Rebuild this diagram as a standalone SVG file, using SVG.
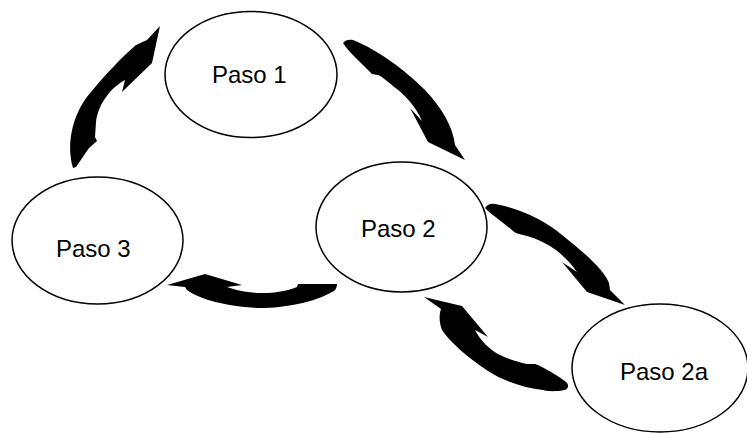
<svg xmlns="http://www.w3.org/2000/svg" width="747" height="433" viewBox="0 0 747 433">
<style>
.node{fill:#fff;stroke:#000;stroke-width:1.5}
.lbl{font-family:"Liberation Sans",Arial,sans-serif;font-size:24px;fill:#000}
.arr{fill:#000;stroke:none}
</style>
<rect width="747" height="433" fill="#fff"/>
<g id="connectors">
<path class="arr" d="M73,168 C65,140 75,110 91,92 C104,76 121,58 136,45 L147,40 L160,26 L152,63 L122,92 L125,80 C110,88 98,105 96,122 L95,137 L97,141 L89,148 L76,167 Z"/>
<path class="arr" d="M343,43 C345,40 349,39 353,40 C378,50 405,70 425,90 C442,108 453,127 455,145 L465,160 L428,142 L410,108 L422,121 C416,106 403,93 393,86 C386,80 381,76 378,75 L372,74 L369,71 C360,62 349,52 343,43 Z"/>
<path class="arr" d="M167,285 L205,274 L242,285 L227,287 C245,294 275,296 297,287 L298,284 L337,284 C337,288 335,291 332,292 C315,302 285,308 260,308 C230,307 200,300 187,290 L185,287 Z"/>
<path class="arr" d="M485,208 C487,205 490,203 495,204 C518,208 545,220 562,235 C585,253 604,270 609,283 L610,290 L625,305 L587,292 L562,262 L577,272 C570,262 560,252 550,246 C540,240 530,236 519,234 L516,233 L513,231 C505,224 492,215 485,208 Z"/>
<path class="arr" d="M424,297 L462,306 L488,337 L475,330 C480,340 490,350 500,355 C510,360 522,363 527,364 L535,364 L538,365 C550,371 562,378 567,383 C569,386 568,389 565,390 C555,392 545,391 543,390 C525,388 503,381 488,371 C468,358 450,342 442,330 C439,322 439,315 441,309 Z"/>
</g>
<g id="paso1"><ellipse class="node" cx="251" cy="74.5" rx="86" ry="63"/><text class="lbl" x="212" y="83">Paso 1</text></g>
<g id="paso2"><ellipse class="node" cx="401.5" cy="227" rx="85.5" ry="65"/><text class="lbl" x="361" y="237">Paso 2</text></g>
<g id="paso3"><ellipse class="node" cx="97.5" cy="240.5" rx="85.5" ry="63.5"/><text class="lbl" x="56" y="257">Paso 3</text></g>
<g id="paso2a"><ellipse class="node" cx="660" cy="368" rx="88" ry="64"/><text class="lbl" x="620" y="380">Paso 2a</text></g>
</svg>
